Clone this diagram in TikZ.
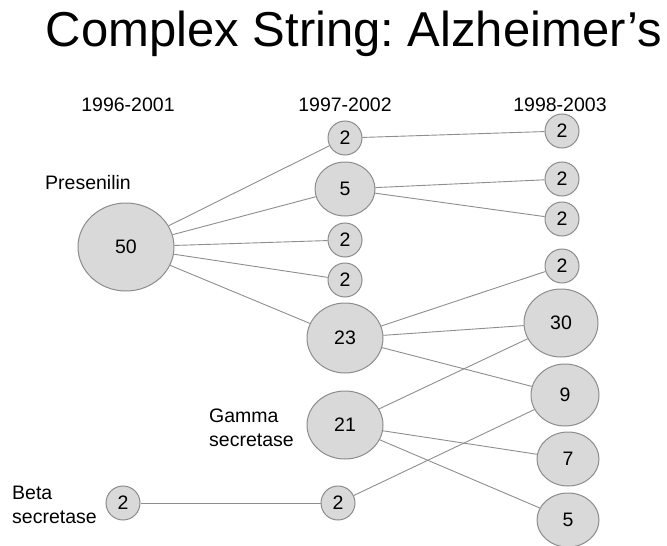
\documentclass[tikz,border=0pt]{standalone}
\usepackage{fontspec}
\setmainfont{Liberation Sans}
\usetikzlibrary{shapes.geometric}
\definecolor{nodefill}{HTML}{D9D9D9}
\definecolor{nodeline}{HTML}{8C8C8C}
\definecolor{edgeline}{HTML}{8E8E8E}
\frenchspacing
\begin{document}
\begin{tikzpicture}[x=1pt,y=-1pt,
  bub/.style={ellipse,draw=nodeline,fill=nodefill,line width=1pt,inner sep=0pt,
    font=\fontsize{19.5}{23}\selectfont},
  lbl/.style={inner sep=0pt,font=\fontsize{19.5}{24}\selectfont},
  edge/.style={draw=edgeline,line width=0.9pt}]
\useasboundingbox (0,0) rectangle (667,546);
\node[inner sep=0pt,anchor=base,font=\fontsize{49}{55}\selectfont] (title) at (354,46) {Complex String: Alzheimer’s};
\node[lbl,anchor=base] (h1) at (128,111) {1996-2001};
\node[lbl,anchor=base] (h2) at (345,111) {1997-2002};
\node[lbl,anchor=base] (h3) at (560,111) {1998-2003};
\node[lbl,anchor=base west] (pres) at (45,189) {Presenilin};
\node[lbl,anchor=base west,align=left] (gamma) at (209,446) {Gamma\\secretase};
\node[lbl,anchor=base west,align=left] (beta) at (12,523) {Beta\\secretase};
% nodes
\node[bub,minimum width=96pt,minimum height=88pt] (n50) at (126,247) {50};
\node[bub,minimum width=34pt,minimum height=34pt] (m1) at (345,138) {2};
\node[bub,minimum width=60pt,minimum height=54pt] (m2) at (345,189) {5};
\node[bub,minimum width=34pt,minimum height=34pt] (m3) at (345,240) {2};
\node[bub,minimum width=34pt,minimum height=34pt] (m4) at (345,280) {2};
\node[bub,minimum width=76pt,minimum height=70pt] (m5) at (345,338) {23};
\node[bub,minimum width=76pt,minimum height=68pt] (m6) at (345,425) {21};
\node[bub,minimum width=34pt,minimum height=34pt] (m7) at (338,503) {2};
\node[bub,minimum width=34pt,minimum height=34pt] (b1) at (123,503) {2};
\node[bub,minimum width=34pt,minimum height=34pt] (r1) at (562,131) {2};
\node[bub,minimum width=34pt,minimum height=34pt] (r2) at (562,179) {2};
\node[bub,minimum width=34pt,minimum height=34pt] (r3) at (562,219) {2};
\node[bub,minimum width=34pt,minimum height=34pt] (r4) at (562,266) {2};
\node[bub,minimum width=74pt,minimum height=68pt] (r5) at (561,323) {30};
\node[bub,minimum width=68pt,minimum height=62pt] (r6) at (565,395) {9};
\node[bub,minimum width=62pt,minimum height=54pt] (r7) at (568,459) {7};
\node[bub,minimum width=62pt,minimum height=54pt] (r8) at (568,520) {5};
% edges
\path[edge] (n50) -- (m1);
\path[edge] (n50) -- (m2);
\path[edge] (n50) -- (m3);
\path[edge] (n50) -- (m4);
\path[edge] (n50) -- (m5);
\path[edge] (m1) -- (r1);
\path[edge] (m2) -- (r2);
\path[edge] (m2) -- (r3);
\path[edge] (m5) -- (r4);
\path[edge] (m5) -- (r5);
\path[edge] (m5) -- (r6);
\path[edge] (m6) -- (r5);
\path[edge] (m6) -- (r7);
\path[edge] (m6) -- (r8);
\path[edge] (b1) -- (m7);
\path[edge] (m7) -- (r6);
\end{tikzpicture}
\end{document}
